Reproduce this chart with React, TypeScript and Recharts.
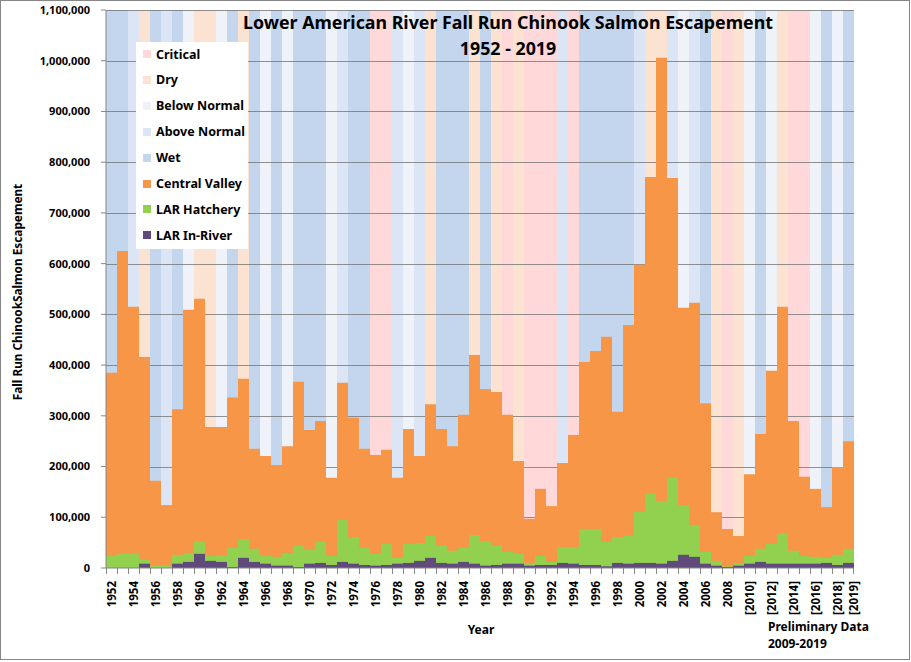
import { BarChart, Bar, XAxis, YAxis } from "recharts";

// water year classification, Sacramento Valley index
const years = [
  1952, 1953, 1954, 1955, 1956, 1957, 1958, 1959, 1960, 1961, 1962, 1963, 1964, 1965, 1966, 1967, 1968,
  1969, 1970, 1971, 1972, 1973, 1974, 1975, 1976, 1977, 1978, 1979, 1980, 1981, 1982, 1983, 1984, 1985,
  1986, 1987, 1988, 1989, 1990, 1991, 1992, 1993, 1994, 1995, 1996, 1997, 1998, 1999, 2000, 2001, 2002,
  2003, 2004, 2005, 2006, 2007, 2008, 2009, 2010, 2011, 2012, 2013, 2014, 2015, 2016, 2017, 2018, 2019,
];
const waterYearTypes = [
  "W", "W", "AN", "D", "W", "AN", "W", "BN", "D", "D", "BN", "W", "D", "W", "BN", "W", "BN",
  "W", "W", "W", "BN", "AN", "W", "W", "C", "C", "AN", "BN", "AN", "D", "W", "W", "W", "D",
  "W", "D", "C", "D", "C", "C", "C", "AN", "C", "W", "W", "W", "W", "W", "AN", "D", "D",
  "AN", "BN", "AN", "W", "D", "C", "D", "BN", "W", "BN", "D", "C", "C", "BN", "W", "BN", "W",
];
const centralValley = [
  385000, 625000, 515000, 416000, 172000, 124000, 313000, 509000, 531000, 278000, 278000, 336000, 373000,
  235000, 221000, 203000, 240000, 367000, 272000, 290000, 178000, 365000, 296000, 235000, 223000, 233000,
  178000, 274000, 221000, 323000, 274000, 240000, 302000, 420000, 353000, 347000, 302000, 211000, 97000,
  156000, 122000, 207000, 262000, 406000, 428000, 456000, 308000, 479000, 598000, 771000, 1006000, 769000,
  513000, 523000, 325000, 110000, 77000, 63000, 185000, 264000, 389000, 515000, 290000, 180000, 156000,
  120000, 199000, 250000,
];
const larHatchery = [
  24000, 28000, 28000, 16000, 5000, 5000, 26000, 30000, 53000, 24000, 25000, 40000, 57000, 38000, 25000,
  22000, 30000, 45000, 36000, 52000, 24000, 95000, 61000, 40000, 28000, 48000, 20000, 48000, 49000, 64000,
  44000, 34000, 40000, 65000, 53000, 45000, 32000, 28000, 10000, 24000, 12000, 41000, 41000, 77000, 77000,
  52000, 61000, 64000, 111000, 147000, 132000, 178000, 124000, 85000, 32000, 14000, 3000, 10000, 24000,
  38000, 48000, 68000, 34000, 24000, 22000, 20000, 26000, 38000,
];
const larInRiver = [
  0, 0, 0, 8500, 0, 0, 8500, 12000, 28000, 14000, 12000, 2000, 20000, 12000, 8500, 4600, 4600, 2000, 8500,
  10000, 6000, 12000, 8500, 6000, 4600, 6000, 8500, 10000, 14000, 20000, 10000, 8500, 12000, 8500, 4600,
  6000, 8500, 8500, 4600, 6000, 6000, 10000, 8500, 6000, 6000, 3300, 10000, 8500, 10000, 10000, 8500,
  14000, 26000, 22000, 8500, 4600, 2000, 4600, 8500, 12000, 8500, 8500, 8500, 8500, 8500, 10000, 6000,
  10000,
];
const yTicks = [0, 100000, 200000, 300000, 400000, 500000, 600000, 700000, 800000, 900000, 1000000, 1100000];
const YMAX = 1100000;

const typeColors: Record<string, string> = {
  C: "#FFD9D9",
  D: "#FBE2D1",
  BN: "#EFF3F9",
  AN: "#DBE5F5",
  W: "#C3D6EE",
};

const legendItems = [
  { label: "Critical", color: typeColors.C },
  { label: "Dry", color: typeColors.D },
  { label: "Below Normal", color: typeColors.BN },
  { label: "Above Normal", color: typeColors.AN },
  { label: "Wet", color: typeColors.W },
  { label: "Central Valley", color: "#F79646" },
  { label: "LAR Hatchery", color: "#92D050" },
  { label: "LAR In-River", color: "#604A7B" },
];

const data = years.map((year, i) => ({
  year,
  wyt: waterYearTypes[i],
  cv: centralValley[i],
  hatchery: larHatchery[i],
  inRiver: larInRiver[i],
}));

const FONT = "'Noto Sans', sans-serif";

// water year band + grid lines, so the grid sits under the fish bars
const BandShape = (props: any) => {
  const { x, y, width, height, payload } = props;
  return (
    <g>
      <rect x={x} y={y} width={width} height={height} fill={typeColors[payload.wyt]} />
      {yTicks.slice(1).map((v) => {
        const yy = Math.round(y + height - (height * v) / YMAX) + 0.5;
        return (
          <line key={v} x1={x} x2={x + width} y1={yy} y2={yy} stroke="#6f6f6f" strokeOpacity={0.75} />
        );
      })}
    </g>
  );
};

const YearTick = (props: any) => {
  const { x, y, payload, index } = props;
  const off = payload.offset || 5.5;
  const yr = payload.value;
  let label = "";
  if (yr <= 2008 && yr % 2 === 0) label = String(yr);
  if (yr >= 2010 && yr % 2 === 0) label = `[${yr}]`;
  if (yr === 2019) label = "[2019]";
  const lx = yr === 2019 ? x + 5 : x;
  return (
    <g>
      <line x1={x - off + 0.5} x2={x - off + 0.5} y1={y} y2={y + 6} stroke="#868686" />
      {index === years.length - 1 && (
        <line x1={x + off - 0.5} x2={x + off - 0.5} y1={y} y2={y + 6} stroke="#868686" />
      )}
      {label && (
        <text
          x={lx}
          y={y + 13}
          transform={`rotate(-90 ${lx} ${y + 13})`}
          textAnchor="end"
          dominantBaseline="central"
          fontFamily={FONT}
          fontWeight="bold"
          fontSize={11.5}
          fill="#000"
        >
          {label}
        </text>
      )}
    </g>
  );
};

export default function App() {
  return (
    <div style={{ position: "relative", width: 911, height: 662, background: "#fff" }}>
      <style>{"body{margin:0}"}</style>
      <BarChart
        width={911}
        height={662}
        data={data}
        margin={{ top: 10, right: 57, bottom: 0, left: 0 }}
        barCategoryGap={0}
        barGap="-100%"
      >
        <XAxis
          dataKey="year"
          interval={0}
          height={94}
          tickLine={false}
          tickSize={0}
          tickMargin={0}
          axisLine={{ stroke: "#868686" }}
          tick={<YearTick />}
        />
        <YAxis
          width={106}
          domain={[0, YMAX]}
          ticks={yTicks}
          interval={0}
          tickSize={5}
          tickMargin={11}
          axisLine={{ stroke: "#868686" }}
          tickLine={{ stroke: "#868686" }}
          tickFormatter={(v: number) => v.toLocaleString("en-US")}
          tick={{ fontFamily: FONT, fontWeight: "bold", fontSize: 11, fill: "#000" }}
        />
        <Bar dataKey={() => YMAX} shape={<BandShape />} isAnimationActive={false} />
        <Bar dataKey="cv" fill="#F79646" isAnimationActive={false} />
        <Bar dataKey="hatchery" fill="#92D050" isAnimationActive={false} />
        <Bar dataKey="inRiver" fill="#604A7B" isAnimationActive={false} />
      </BarChart>

      <div
        style={{
          position: "absolute",
          left: 136,
          top: 42,
          width: 112,
          height: 207,
          background: "#fff",
          fontFamily: FONT,
          fontWeight: "bold",
          fontSize: 12.5,
        }}
      >
        {legendItems.map((it, i) => (
          <div
            key={it.label}
            style={{ position: "absolute", left: 7, top: 3 + i * 25.9, height: 18, display: "flex", alignItems: "center" }}
          >
            <span style={{ width: 8, height: 8, background: it.color, marginRight: 5 }} />
            <span>{it.label}</span>
          </div>
        ))}
      </div>

      <svg
        width={911}
        height={662}
        style={{ position: "absolute", left: 0, top: 0, pointerEvents: "none" }}
        fontFamily={FONT}
        fontWeight="bold"
      >
        <rect x={0.5} y={0.5} width={909} height={659} fill="none" stroke="#868686" />
        <text x={508} y={29} textAnchor="middle" fontSize={17.8} fill="#000">
          Lower American River Fall Run Chinook Salmon Escapement
        </text>
        <text x={508} y={55} textAnchor="middle" fontSize={17.8} fill="#000">
          1952 - 2019
        </text>
        <text x={22} y={292} transform="rotate(-90 22 292)" textAnchor="middle" fontSize={11.8} fill="#000">
          Fall Run ChinookSalmon Escapement
        </text>
        <text x={481} y={634} textAnchor="middle" fontSize={12} fill="#000">
          Year
        </text>
        <text x={768} y={631} fontSize={12} fill="#000">
          Preliminary Data
        </text>
        <text x={768} y={648} fontSize={12} fill="#000">
          2009-2019
        </text>
      </svg>
    </div>
  );
}
